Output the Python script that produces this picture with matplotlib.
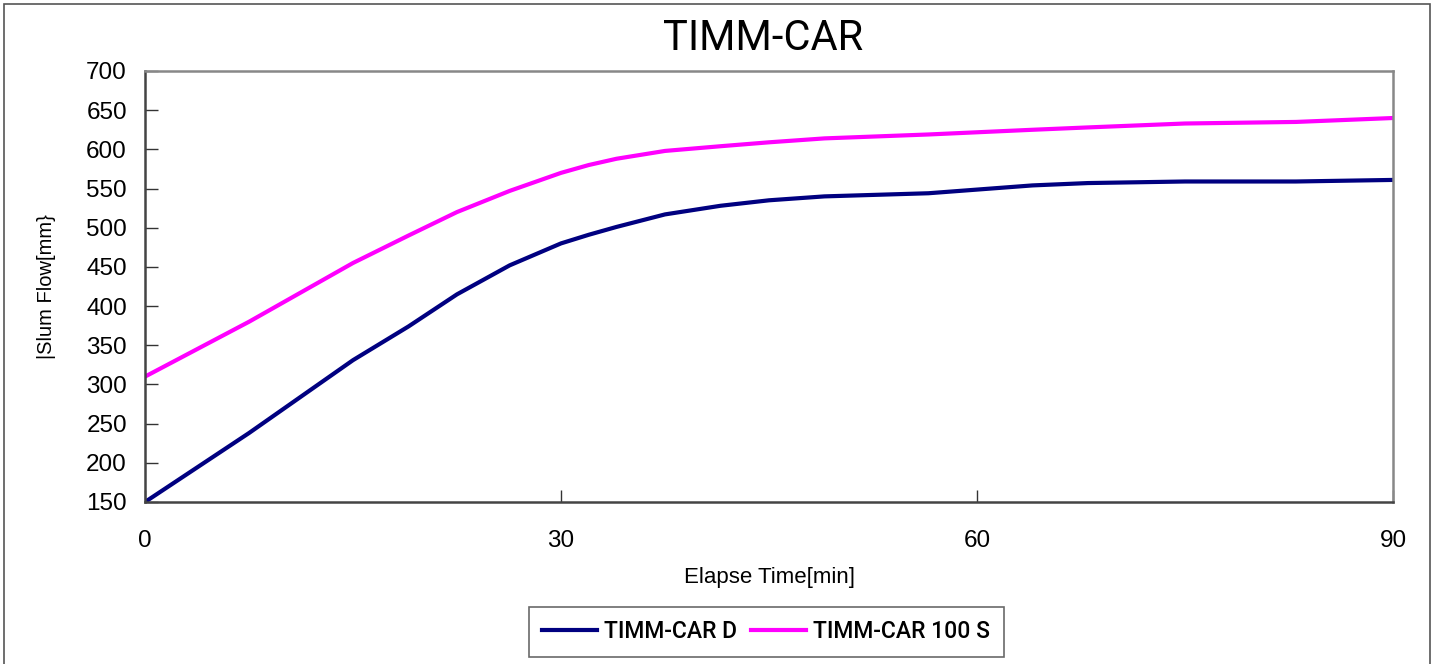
import matplotlib.pyplot as plt
from matplotlib.patches import Rectangle

# elapsed time [min] and slump flow [mm]
time_min = [0, 7.5, 15, 19, 22.5, 26.3, 30, 32, 34, 37.5, 41.5, 45, 49, 56.5, 64, 68, 75, 83, 90]
flow_d = [150, 238, 331, 374, 415, 452, 480, 491, 501, 517, 528, 535, 540, 544, 554, 557, 559, 559, 561]
flow_100s = [310, 380, 455, 490, 520, 547, 570, 580, 588, 598, 604, 609, 614, 619, 625, 628, 633, 635, 640]

series_names = ["TIMM-CAR D", "TIMM-CAR 100 S"]
x_ticks = [0, 30, 60, 90]
y_ticks = [150, 200, 250, 300, 350, 400, 450, 500, 550, 600, 650, 700]

plt.rcParams['font.family'] = ['Liberation Sans', 'DejaVu Sans']

fig = plt.figure(figsize=(14.38, 6.64), dpi=100)
ax = fig.add_axes([145 / 1438, 1 - 502 / 664, 1248 / 1438, 431 / 664])

# outer chart border
fig.patches.append(Rectangle((4 / 1438, -0.01), 1426 / 1438, 1 - 4 / 664 + 0.01,
                             transform=fig.transFigure, fill=False,
                             edgecolor='#555555', linewidth=1.2))

l1, = ax.plot(time_min, flow_d, color='#000080', linewidth=3, solid_joinstyle='round')
l2, = ax.plot(time_min, flow_100s, color='#FF00FF', linewidth=3, solid_joinstyle='round')

ax.set_xlim(0, 90)
ax.set_ylim(150, 700)
ax.set_xticks(x_ticks)
ax.set_yticks(y_ticks)
ax.tick_params(direction='in', length=9, width=1, labelsize=17.5, color='#333333')
ax.tick_params(axis='x', pad=20)
ax.tick_params(axis='y', pad=13)

for side in ['left', 'bottom']:
    ax.spines[side].set_color('#444444')
    ax.spines[side].set_linewidth(1.8)
for side in ['top', 'right']:
    ax.spines[side].set_color('#888888')
    ax.spines[side].set_linewidth(1.8)

ax.set_xlabel("Elapse Time[min]", fontsize=16, labelpad=11)
ax.set_ylabel("|Slum Flow[mm}", fontsize=14.5, labelpad=22)

fig.text(763 / 1438, 1 - 38 / 664, "TIMM-CAR", ha='center', va='center',
         fontsize=30, family=['Roboto', 'DejaVu Sans'])

leg = fig.legend([l1, l2], series_names, loc='center', bbox_to_anchor=(766 / 1438, 1 - 632 / 664),
                 ncol=2, frameon=True, fancybox=False, edgecolor='#444444',
                 prop={'family': ['Roboto', 'DejaVu Sans'], 'size': 16.5, 'weight': 'medium'},
                 handlelength=2.4, handletextpad=0.3, columnspacing=0.6, borderpad=0.6)
leg.get_frame().set_linewidth(1.2)

fig.savefig("out.png", dpi=100)
